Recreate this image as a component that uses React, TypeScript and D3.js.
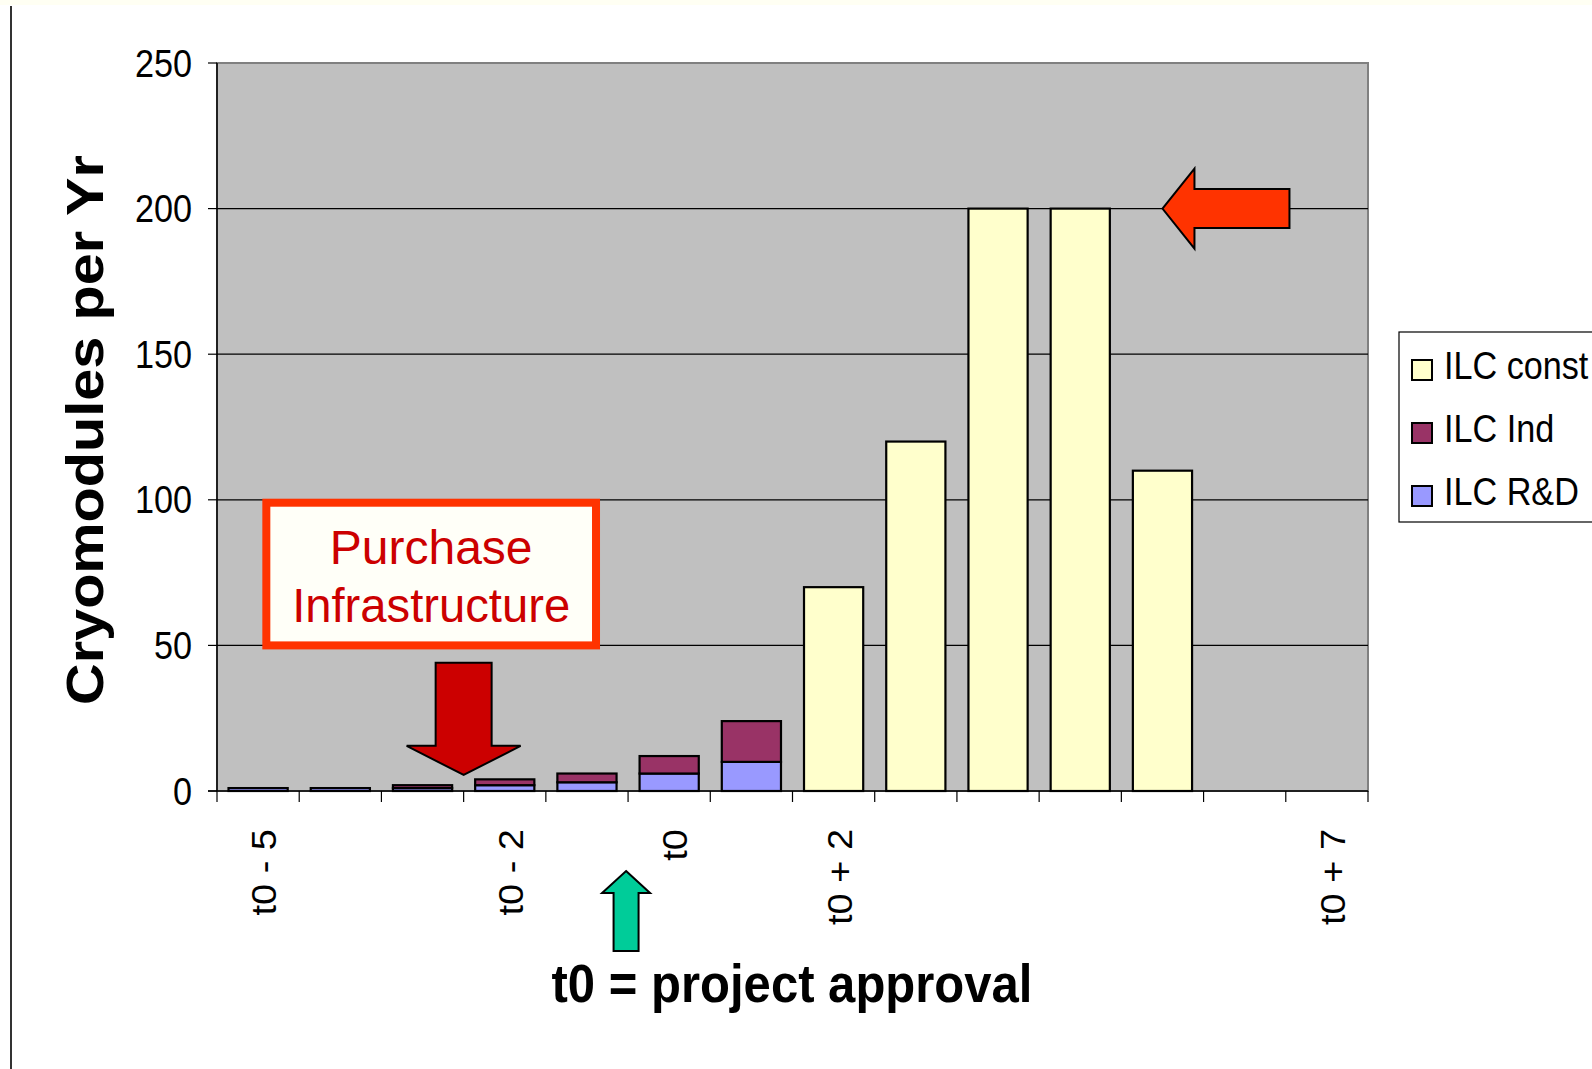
import * as d3 from 'd3'

const WIDTH = 1592
const HEIGHT = 1069
const MARGIN = { top: 63, right: 224, bottom: 278, left: 217 }
const FONT = 'Liberation Sans, Arial, sans-serif'

// x categories (only some are labelled in the original)
const YEARS = ['t0 - 5', '', '', 't0 - 2', '', 't0', '', 't0 + 2', '', '', '', '', '', 't0 + 7']
const RND = [1, 1, 1, 2, 3, 6, 10, 0, 0, 0, 0, 0, 0, 0]
const IND = [0, 0, 1, 2, 3, 6, 14, 0, 0, 0, 0, 0, 0, 0]
const CONST = [0, 0, 0, 0, 0, 0, 0, 70, 120, 200, 200, 110, 0, 0]
const Y_TICKS = [0, 50, 100, 150, 200, 250]

const SERIES = [
  { key: 'rnd', name: 'ILC R&D', color: '#9999FF' },
  { key: 'ind', name: 'ILC Ind', color: '#993366' },
  { key: 'cons', name: 'ILC const', color: '#FFFFCC' },
]

export default function App() {
  const innerW = WIDTH - MARGIN.left - MARGIN.right
  const innerH = HEIGHT - MARGIN.top - MARGIN.bottom
  const x0 = MARGIN.left
  const y0 = MARGIN.top + innerH

  const rows = YEARS.map((label, i) => ({ i, label, rnd: RND[i], ind: IND[i], cons: CONST[i] }))
  const stacked = d3.stack<any>().keys(SERIES.map(s => s.key))(rows)

  const x = d3.scaleBand<number>()
    .domain(rows.map(r => r.i))
    .range([MARGIN.left, MARGIN.left + innerW])
    .padding(0)
  const y = d3.scaleLinear().domain([0, 250]).range([y0, MARGIN.top])

  const step = x.step()
  const barW = step * 0.72
  const edge = (k: number) => MARGIN.left + k * step

  // annotation anchors
  const redTipX = edge(3)
  const redArrow = [
    [redTipX - 28, y(44)], [redTipX + 28, y(44)], [redTipX + 28, y(15.5)], [redTipX + 57, y(15.5)],
    [redTipX, y(5.5)], [redTipX - 57, y(15.5)], [redTipX - 28, y(15.5)],
  ]
  const gx = edge(5) - 2
  const greenArrow = [
    [gx, y0 + 80], [gx + 24, y0 + 102], [gx + 12.5, y0 + 102], [gx + 12.5, y0 + 160],
    [gx - 12.5, y0 + 160], [gx - 12.5, y0 + 102], [gx - 24, y0 + 102],
  ]
  const ox = (x(11) as number) + step / 2
  const oy = y(200)
  const orangeArrow = [
    [ox, oy], [ox + 32, oy - 40], [ox + 32, oy - 19.5], [ox + 127, oy - 19.5],
    [ox + 127, oy + 19.5], [ox + 32, oy + 19.5], [ox + 32, oy + 40],
  ]
  const pts = (p: number[][]) => p.map(d => d.join(',')).join(' ')

  const boxX1 = edge(0.6)
  const boxX2 = edge(4.61)
  const boxY1 = y(99)
  const boxY2 = y(50)

  return (
    <svg width={WIDTH} height={HEIGHT} style={{ position: 'absolute', left: 0, top: 0, display: 'block' }} fontFamily={FONT}>
      <rect x={0} y={0} width={WIDTH} height={HEIGHT} fill="#fff" />
      <rect x={0} y={0} width={WIDTH} height={5} fill="#FFFFF3" />
      <line x1={11} x2={11} y1={6} y2={HEIGHT} stroke="#333" strokeWidth={2} />

      {/* plot area */}
      <rect x={x0} y={MARGIN.top} width={innerW} height={innerH} fill="#C0C0C0" stroke="#808080" strokeWidth={2} />
      {Y_TICKS.filter(t => t > 0 && t < 250).map(t => (
        <line key={t} x1={x0} x2={x0 + innerW} y1={y(t)} y2={y(t)} stroke="#000" strokeWidth={1.2} />
      ))}

      {/* bars */}
      {stacked.map((layer, si) => (
        <g key={layer.key} fill={SERIES[si].color}>
          {layer.map((d, i) => {
            const h = y(d[0]) - y(d[1])
            if (h <= 0) return null
            return (
              <rect key={i} x={(x(i) as number) + (step - barW) / 2} y={y(d[1])} width={barW} height={h}
                stroke="#000" strokeWidth={2.2} />
            )
          })}
        </g>
      ))}

      {/* axes */}
      <line x1={x0} x2={x0} y1={MARGIN.top} y2={y0} stroke="#000" strokeWidth={1.5} />
      <line x1={x0 - 9} x2={x0 + innerW} y1={y0} y2={y0} stroke="#000" strokeWidth={1.5} />
      {Y_TICKS.map(t => (
        <g key={t}>
          <line x1={x0 - 9} x2={x0} y1={y(t)} y2={y(t)} stroke="#000" strokeWidth={1.2} />
          <text transform={`translate(${x0 - 25},${y(t)}) scale(0.9,1)`} dy="0.36em" textAnchor="end" fontSize={38} fill="#000">
            {t}
          </text>
        </g>
      ))}
      {d3.range(YEARS.length + 1).map(k => (
        <line key={k} x1={edge(k)} x2={edge(k)} y1={y0} y2={y0 + 11} stroke="#000" strokeWidth={1.2} />
      ))}
      {rows.map(r => r.label && (
        <text key={r.i} transform={`translate(${(x(r.i) as number) + step / 2 + 18},${y0 + 38}) scale(0.9,1) rotate(-90)`}
          textAnchor="end" fontSize={38} fill="#000">
          {r.label}
        </text>
      ))}

      {/* axis titles */}
      <text transform={`translate(103,${(y(0) + y(250)) / 2 + 3}) rotate(-90)`} textAnchor="middle"
        fontSize={52} fontWeight="bold" textLength={550} lengthAdjust="spacingAndGlyphs" fill="#000">
        Cryomodules per Yr
      </text>
      <text x={792} y={1002} textAnchor="middle" fontSize={53} fontWeight="bold"
        textLength={481} lengthAdjust="spacingAndGlyphs" fill="#000">
        t0 = project approval
      </text>

      {/* annotations */}
      <rect x={boxX1} y={boxY1} width={boxX2 - boxX1} height={boxY2 - boxY1} fill="#FFFFF8" stroke="#FF3300" strokeWidth={8} />
      <text x={(boxX1 + boxX2) / 2} y={boxY1 + 61} textAnchor="middle" fontSize={48} fill="#CC0000">Purchase</text>
      <text x={(boxX1 + boxX2) / 2} y={boxY1 + 119} textAnchor="middle" fontSize={48} fill="#CC0000"
        textLength={278} lengthAdjust="spacingAndGlyphs">Infrastructure</text>
      <polygon points={pts(redArrow)} fill="#CC0000" stroke="#000" strokeWidth={2} strokeLinejoin="miter" />
      <polygon points={pts(greenArrow)} fill="#00CC99" stroke="#000" strokeWidth={2} />
      <polygon points={pts(orangeArrow)} fill="#FF3300" stroke="#000" strokeWidth={2} />

      {/* legend */}
      <rect x={1399} y={332} width={220} height={190} fill="#fff" stroke="#000" strokeWidth={1.2} />
      {[...SERIES].reverse().map((s, i) => {
        const by = 379 + i * 63
        return (
          <g key={s.key}>
            <rect x={1412} y={by - 19} width={20} height={20} fill={s.color} stroke="#000" strokeWidth={2} />
            <text transform={`translate(1444,${by}) scale(0.9,1)`} fontSize={38} fill="#000">{s.name}</text>
          </g>
        )
      })}
    </svg>
  )
}
